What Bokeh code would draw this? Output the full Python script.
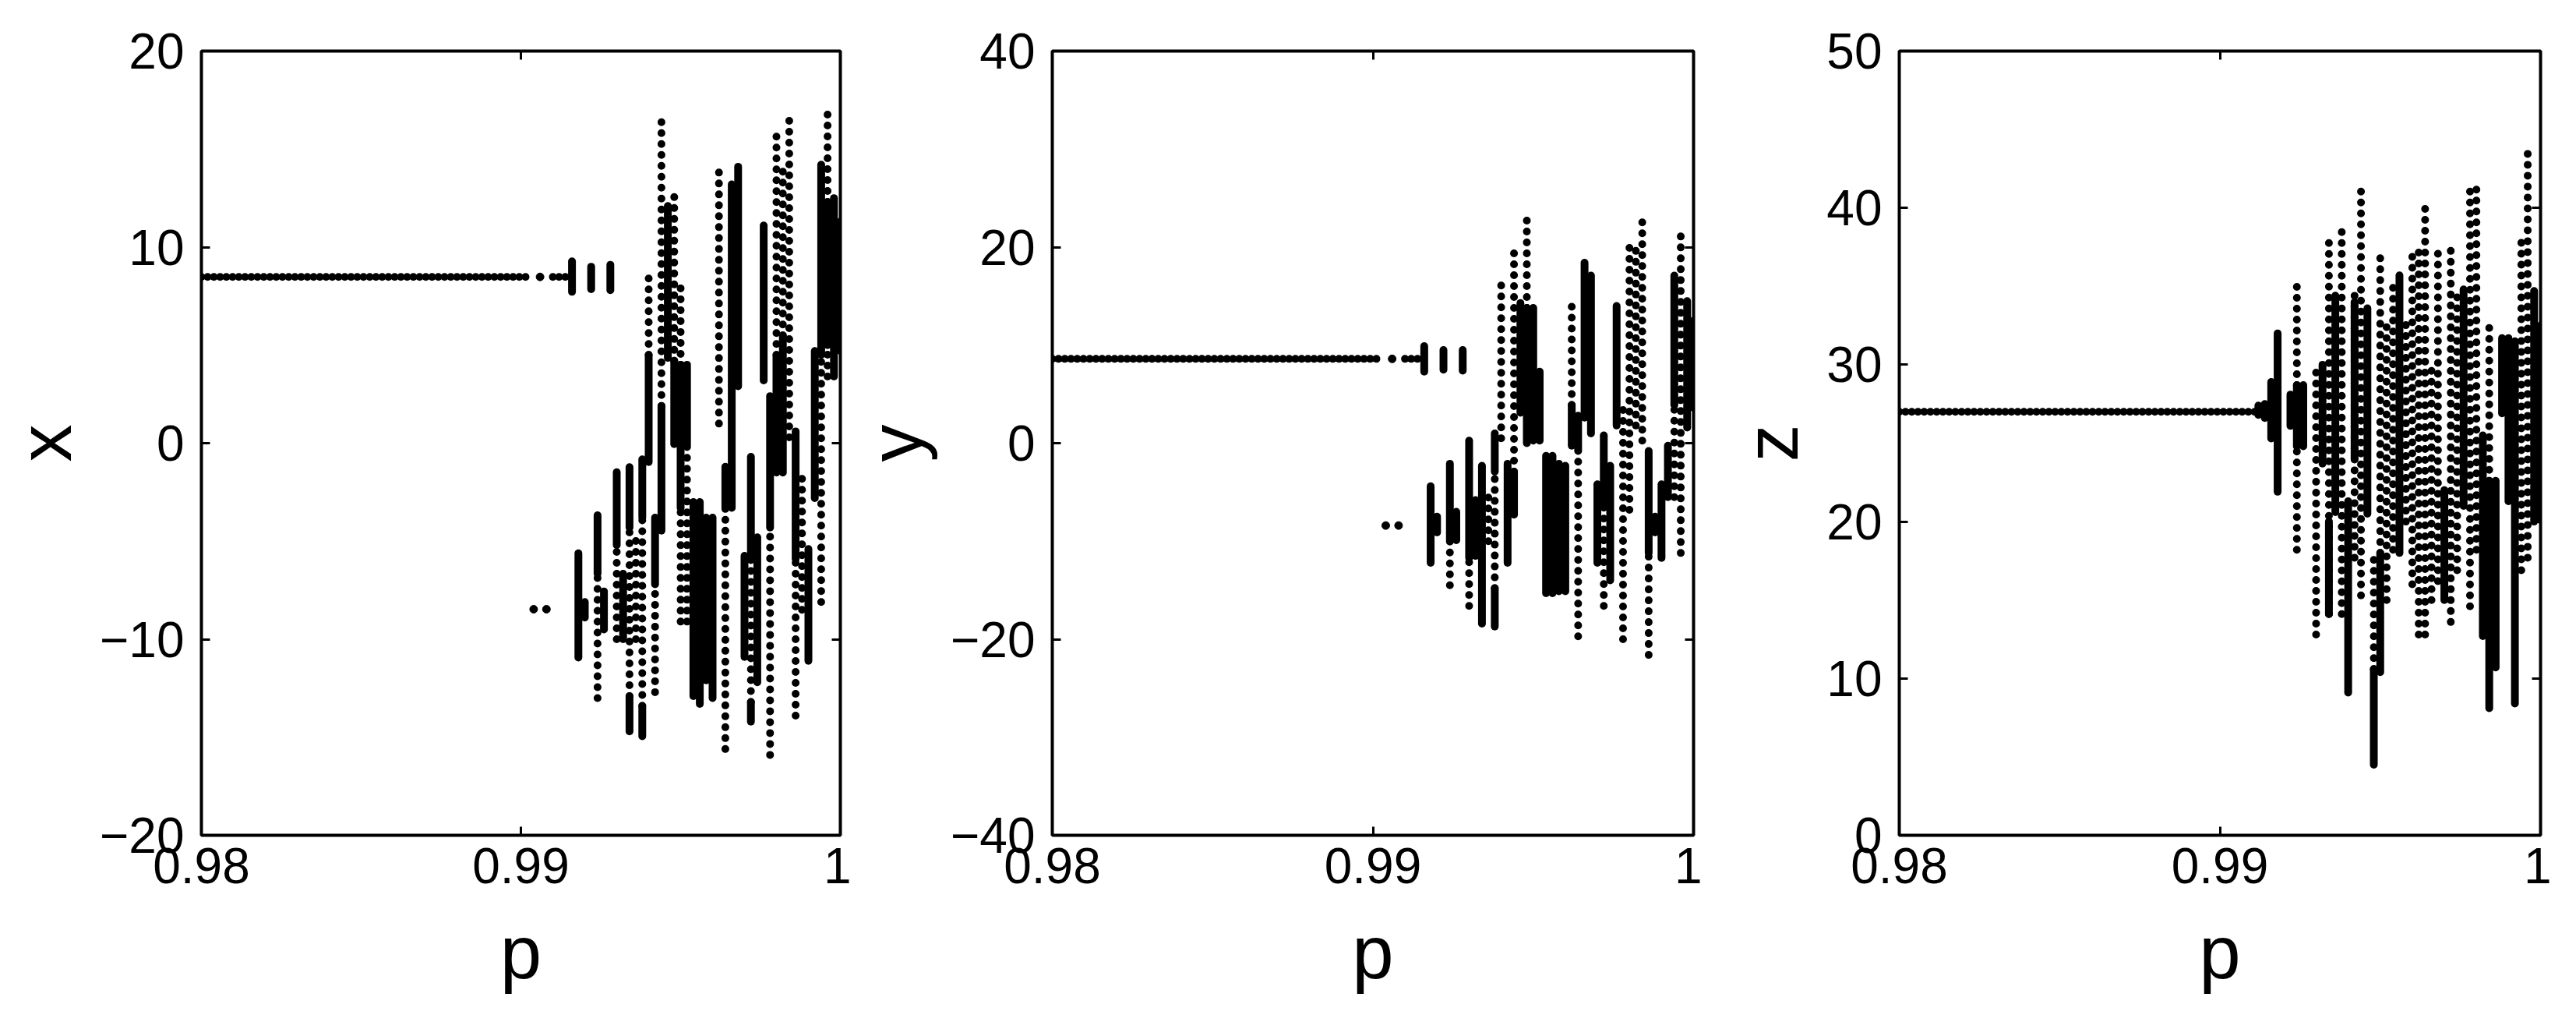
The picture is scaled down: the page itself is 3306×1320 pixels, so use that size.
from bokeh.plotting import figure
from bokeh.layouts import row
from bokeh.models import LinearAxis, Range1d, FixedTicker
from bokeh.embed import file_html
from bokeh.resources import INLINE

# ---------------- data ----------------
P_TICKS = [0.98, 0.99, 1.0]
P_TICK_LABELS = ["0.98", "0.99", "1"]

# panel x
X_TICKS = [-20, -10, 0, 10, 20]
X_TICK_LABELS = ["\u221220", "\u221210", "0", "10", "20"]
X_ROW_P0 = [0.98, 0.9910]
X_ROW_P1 = [0.9902, 0.9914]
X_ROW_V = [8.48, 8.48]
X_PT_P = [0.9904, 0.9906, 0.9908]
X_PT_V = [-8.47, 8.48, -8.47]
X_COL_P = [0.9916, 0.9918, 0.9920, 0.9922, 0.9924, 0.9924, 0.9926, 0.9928, 0.9930, 0.9930,
           0.9932, 0.9934, 0.9934, 0.9934, 0.9936, 0.9938, 0.9938, 0.9938, 0.9940, 0.9940,
           0.9942, 0.9942, 0.9944, 0.9944, 0.9946, 0.9948, 0.9948, 0.9950, 0.9950, 0.9950,
           0.9952, 0.9952, 0.9954, 0.9956, 0.9958, 0.9960, 0.9962, 0.9964, 0.9964, 0.9966,
           0.9968, 0.9970, 0.9972, 0.9972, 0.9972, 0.9974, 0.9976, 0.9978, 0.9978, 0.9980,
           0.9980, 0.9982, 0.9982, 0.9984, 0.9986, 0.9986, 0.9988, 0.9990, 0.9992, 0.9994,
           0.9994, 0.9996, 0.9996, 0.9998, 1.0000]
X_COL_LO = [7.72, -10.93, -8.9, 7.85, -6.66, -13.0, -9.5, 7.8, -5.2, -10.0,
            -10.0, -4.3, -12.9, -14.7, -10.0, -3.8, -13.4, -14.95, -0.96, 4.5,
            -7.2, -12.7, -4.46, 1.9, 4.35, -0.05, 4.2, -3.3, 4.0, -9.1,
            -0.2, -9.1, -12.9, -13.3, -12.1, -13.0, 1.0, -3.3, -15.6, -3.3,
            2.9, -10.9, -5.9, -13.2, -14.2, -12.2, 3.2, -4.3, -15.9, -1.5,
            4.5, -1.5, 5.5, 0.3, -5.9, -13.9, -8.5, -11.1, -2.8, 4.5,
            -8.1, 3.4, 5.0, 3.4, 4.7]
X_COL_HI = [9.27, -5.62, -8.1, 9.0, -3.68, -6.66, -7.56, 9.1, -1.48, -5.2,
            -6.66, -1.22, -4.3, -12.9, -4.5, -0.83, -3.8, -13.4, 4.5, 8.9,
            -3.8, -7.2, 1.9, 16.5, 12.1, 4.2, 13.0, 4.0, 8.1, -3.3,
            4.0, -0.2, -3.0, -3.0, -3.8, -3.8, 14.2, -1.2, -3.3, 13.2,
            14.1, -5.75, -0.7, -5.9, -13.2, -4.8, 11.1, 2.4, -4.3, 4.5,
            16.0, 5.5, 14.1, 16.9, 0.6, -5.9, -1.5, -5.4, 4.7, 14.2,
            4.5, 17.0, 12.3, 12.5, 11.3]
X_COL_KIND = ["s", "s", "s", "s", "s", "d", "s", "s", "s", "d",
              "s", "s", "d", "s", "d", "s", "d", "s", "s", "d",
              "s", "d", "s", "d", "s", "s", "d", "s", "d", "d",
              "s", "d", "s", "s", "s", "s", "d", "s", "d", "s",
              "s", "s", "s", "d", "s", "s", "s", "s", "d", "s",
              "d", "s", "d", "d", "s", "d", "d", "s", "s", "s",
              "d", "d", "s", "s", "s"]

# panel y
Y_TICKS = [-40, -20, 0, 20, 40]
Y_TICK_LABELS = ["\u221240", "\u221220", "0", "20", "40"]
Y_ROW_P0 = [0.98, 0.9910]
Y_ROW_P1 = [0.9902, 0.9914]
Y_ROW_V = [8.6, 8.6]
Y_PT_P = [0.9904, 0.9906, 0.9908]
Y_PT_V = [-8.4, 8.6, -8.4]
Y_COL_P = [0.9916, 0.9918, 0.9920, 0.9922, 0.9924, 0.9924, 0.9926, 0.9928, 0.9930, 0.9930,
           0.9932, 0.9934, 0.9936, 0.9938, 0.9938, 0.9938, 0.9940, 0.9942, 0.9944, 0.9944,
           0.9946, 0.9948, 0.9948, 0.9950, 0.9952, 0.9954, 0.9956, 0.9958, 0.9960, 0.9962,
           0.9962, 0.9964, 0.9964, 0.9966, 0.9968, 0.9970, 0.9972, 0.9972, 0.9974, 0.9976,
           0.9978, 0.9980, 0.9982, 0.9984, 0.9986, 0.9986, 0.9988, 0.9990, 0.9992, 0.9994,
           0.9994, 0.9996, 0.9998, 1.0000]
Y_COL_LO = [7.3, -12.2, -9.1, 7.5, -9.9, -14.5, -9.9, 7.4, -11.7, -16.6,
            -11.5, -18.4, -10.0, -2.9, -14.8, -18.7, 0.5, -12.2, -2.9, -7.3,
            3.1, 13.8, 0.0, 0.26, 0.26, -15.3, -15.3, -15.1, -15.1, 3.9,
            -0.26, -0.8, -19.7, 2.6, 1.0, -12.2, -6.5, -16.6, -14.0, 1.8,
            -20.0, -6.8, 1.8, 0.26, -11.2, -21.6, -9.1, -11.7, -5.5, 3.9,
            -5.5, -11.2, 1.6, 3.6]
Y_COL_HI = [9.9, -4.4, -7.5, 9.5, -2.1, -9.9, -7.0, 9.5, 0.26, -11.7,
            -5.8, -2.3, -5.0, 1.0, -2.9, -14.8, 16.4, -2.1, 20.0, -2.9,
            14.3, 23.6, 13.8, 13.8, 7.3, -1.3, -1.3, -2.1, -2.3, 14.3,
            3.9, 2.8, -0.8, 18.4, 17.1, -4.2, 0.8, -6.5, -2.3, 14.0,
            4.2, 20.3, 20.3, 23.6, -0.8, -11.2, -7.5, -4.2, -0.26, 17.1,
            3.9, 21.8, 14.5, 12.5]
Y_COL_KIND = ["s", "s", "s", "s", "s", "d", "s", "s", "s", "d",
              "s", "s", "d", "s", "d", "s", "d", "s", "d", "s",
              "s", "d", "s", "s", "s", "s", "s", "s", "s", "d",
              "s", "s", "d", "s", "s", "s", "s", "d", "s", "s",
              "d", "d", "d", "d", "s", "d", "s", "s", "s", "s",
              "d", "d", "s", "s"]

# panel z
Z_TICKS = [0, 10, 20, 30, 40, 50]
Z_TICK_LABELS = ["0", "10", "20", "30", "40", "50"]
Z_ROW_P0 = [0.98]
Z_ROW_P1 = [0.9914]
Z_ROW_V = [27.0]
Z_PT_P = []
Z_PT_V = []
Z_COL_P = [0.9912, 0.9914, 0.9916, 0.9918, 0.9922, 0.9924, 0.9924, 0.9924, 0.9926, 0.9930,
           0.9932, 0.9934, 0.9934, 0.9936, 0.9938, 0.9940, 0.9942, 0.9942, 0.9944, 0.9946,
           0.9948, 0.9948, 0.9950, 0.9950, 0.9952, 0.9954, 0.9956, 0.9958, 0.9960, 0.9962,
           0.9964, 0.9966, 0.9968, 0.9970, 0.9972, 0.9974, 0.9976, 0.9978, 0.9980, 0.9982,
           0.9984, 0.9984, 0.9986, 0.9988, 0.9990, 0.9992, 0.9994, 0.9996, 0.9998, 1.0000]
Z_COL_LO = [26.8, 26.6, 25.3, 21.9, 26.1, 28.7, 24.8, 18.2, 24.8, 12.8,
            23.7, 14.1, 14.1, 20.6, 14.1, 9.1, 17.7, 24.0, 15.3, 20.5,
            4.5, 10.6, 10.4, 18.0, 15.0, 18.2, 18.0, 20.0, 16.0, 12.8,
            12.8, 15.0, 16.2, 15.0, 13.6, 16.9, 21.0, 14.6, 18.2, 12.7,
            22.6, 8.1, 10.7, 26.9, 21.3, 8.4, 16.9, 17.7, 20.0, 20.1]
Z_COL_HI = [27.4, 27.5, 28.9, 32.0, 28.1, 35.1, 28.7, 24.8, 28.7, 29.7,
            30.0, 38.1, 20.0, 34.4, 38.6, 21.3, 34.6, 34.0, 41.7, 33.6,
            10.6, 18.2, 18.0, 36.9, 33.0, 35.4, 35.7, 33.0, 37.0, 37.8,
            40.4, 30.0, 37.7, 22.0, 37.8, 34.6, 34.8, 41.1, 41.6, 25.5,
            33.0, 22.6, 22.6, 31.7, 31.7, 31.5, 38.1, 44.0, 34.7, 32.5]
Z_COL_KIND = ["s", "s", "s", "s", "s", "d", "s", "d", "s", "d",
              "s", "d", "s", "s", "d", "s", "d", "s", "d", "s",
              "s", "d", "s", "d", "d", "d", "s", "d", "d", "d",
              "d", "d", "d", "s", "d", "d", "s", "d", "d", "s",
              "d", "s", "s", "s", "s", "s", "d", "d", "s", "s"]

FONT = "Liberation Sans"
DOT = 10


def panel(label, yr, yticks, ylabels, rows, pts, cols, left, fw, right):
    p = figure(frame_width=fw, frame_height=1006,
               x_range=Range1d(0.98, 1.0), y_range=Range1d(*yr),
               output_backend="svg", toolbar_location=None,
               min_border_left=left, min_border_right=right,
               min_border_top=65, min_border_bottom=225,
               x_axis_label="p", y_axis_label=label,
               background_fill_color="white", border_fill_color="white")
    p.grid.visible = False
    p.outline_line_color = "black"
    p.outline_line_width = 4
    p.outline_line_alpha = 1.0

    r0, r1, rv = rows
    p.segment(x0=r0, y0=rv, x1=r1, y1=rv, line_color="black", line_width=DOT,
              line_dash="0 8", line_cap="round")
    if pts[0]:
        p.scatter(pts[0], pts[1], size=DOT, color="black")
    cp, clo, chi, ck = cols
    sp = [a for a, k in zip(cp, ck) if k == "s"]
    slo = [a for a, k in zip(clo, ck) if k == "s"]
    shi = [a for a, k in zip(chi, ck) if k == "s"]
    dp = [a for a, k in zip(cp, ck) if k == "d"]
    dlo = [a for a, k in zip(clo, ck) if k == "d"]
    dhi = [a for a, k in zip(chi, ck) if k == "d"]
    p.segment(x0=dp, y0=dlo, x1=dp, y1=dhi, line_color="black", line_width=DOT,
              line_dash="0 14", line_cap="round")
    p.segment(x0=sp, y0=slo, x1=sp, y1=shi, line_color="black", line_width=DOT,
              line_cap="round")

    xt = dict(zip(P_TICKS, P_TICK_LABELS))
    yt = dict(zip(yticks, ylabels))

    for ax in p.xaxis:
        ax.ticker = FixedTicker(ticks=P_TICKS)
        ax.major_label_overrides = xt
        ax.major_label_standoff = 16
        ax.axis_label_standoff = 32
    for ax in p.yaxis:
        ax.ticker = FixedTicker(ticks=yticks)
        ax.major_label_overrides = yt
        ax.major_label_standoff = 22
        ax.axis_label_standoff = 14

    # right and top axes: only inward tick marks (drawn as minor ticks, no labels)
    ax_r = LinearAxis(ticker=FixedTicker(ticks=[], minor_ticks=yticks))
    p.add_layout(ax_r, "right")
    ax_t = LinearAxis(ticker=FixedTicker(ticks=[], minor_ticks=P_TICKS))
    p.add_layout(ax_t, "above")
    for ax in (ax_r, ax_t):
        ax.axis_line_color = None
        ax.major_tick_line_color = None
        ax.minor_tick_in = 11
        ax.minor_tick_out = 0
        ax.minor_tick_line_width = 3
        ax.minor_tick_line_color = "black"
        ax.major_label_standoff = 0
        ax.major_label_text_font_size = "10px"

    for ax in list(p.xaxis) + list(p.yaxis):
        if ax in (ax_r, ax_t):
            continue
        ax.axis_line_color = None
        ax.major_tick_in = 11
        ax.major_tick_out = 0
        ax.major_tick_line_width = 3
        ax.major_tick_line_color = "black"
        ax.minor_tick_line_color = None
        ax.major_label_text_font = FONT
        ax.major_label_text_color = "black"
        ax.major_label_text_font_size = "64px"
        ax.axis_label_text_font = FONT
        ax.axis_label_text_font_style = "normal"
        ax.axis_label_text_color = "black"
        ax.axis_label_text_font_size = "96px"
    return p


p1 = panel("x", (-20, 20), X_TICKS, X_TICK_LABELS,
           (X_ROW_P0, X_ROW_P1, X_ROW_V), (X_PT_P, X_PT_V),
           (X_COL_P, X_COL_LO, X_COL_HI, X_COL_KIND), 253, 820, 14)
p2 = panel("y", (-40, 40), Y_TICKS, Y_TICK_LABELS,
           (Y_ROW_P0, Y_ROW_P1, Y_ROW_V), (Y_PT_P, Y_PT_V),
           (Y_COL_P, Y_COL_LO, Y_COL_HI, Y_COL_KIND), 253, 823, 11)
p3 = panel("z", (0, 50), Z_TICKS, Z_TICK_LABELS,
           (Z_ROW_P0, Z_ROW_P1, Z_ROW_V), (Z_PT_P, Z_PT_V),
           (Z_COL_P, Z_COL_LO, Z_COL_HI, Z_COL_KIND), 253, 823, 14)

layout = row(p1, p2, p3)
open("out.html", "w").write(file_html(layout, INLINE))
